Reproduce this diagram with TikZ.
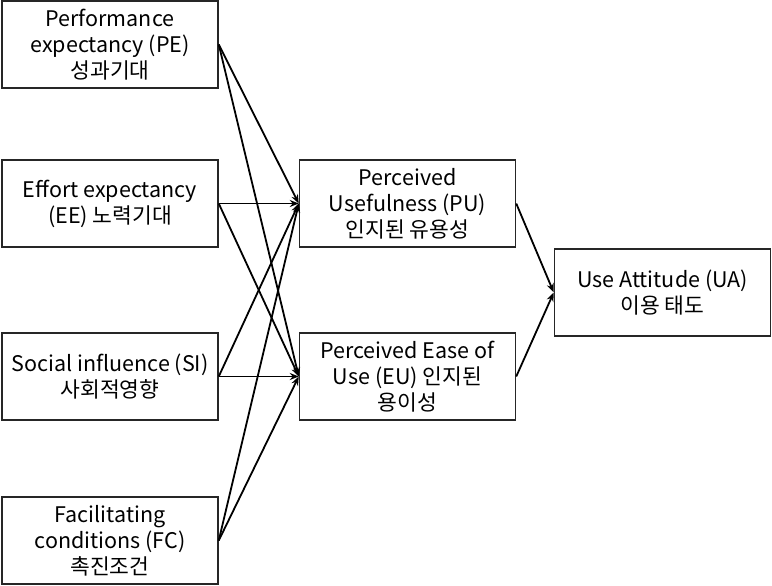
\documentclass[tikz,border=0pt]{standalone}
\usepackage{fontspec}
\setmainfont{Noto Sans CJK KR}
\usetikzlibrary{arrows.meta}
\begin{document}
\begin{tikzpicture}[x=1pt,y=-1pt,
  box/.style={draw=black!85,line width=1.5pt,rectangle,minimum width=216pt,minimum height=87pt,inner sep=0pt,align=center,
    font=\fontsize{21.5}{26}\selectfont},
  conn/.style={line width=1.8pt,-{Stealth[length=9pt,width=7pt]}}]
\useasboundingbox (0,0) rectangle (772,586);
\node[box] (PE) at (110,44.5) {Performance\\expectancy (PE)\\성과기대};
\node[box] (EE) at (110,203.5) {Effort expectancy\\(EE) 노력기대};
\node[box] (SI) at (110,376.5) {Social influence (SI)\\사회적영향};
\node[box] (FC) at (110,540.5) {Facilitating\\conditions (FC)\\촉진조건};
\node[box] (PU) at (407.5,203.5) {Perceived\\Usefulness (PU)\\인지된 유용성};
\node[box] (EU) at (407.5,376.5) {Perceived Ease of\\Use (EU) 인지된\\용이성};
\node[box] (UA) at (662.5,292.5) {Use Attitude (UA)\\이용 태도};
\foreach \s in {PE,EE,SI,FC}{
  \draw[conn] (\s.east) -- (PU.west);
  \draw[conn] (\s.east) -- (EU.west);
}
\draw[conn] (PU.east) -- (UA.west);
\draw[conn] (EU.east) -- (UA.west);
\end{tikzpicture}
\end{document}
